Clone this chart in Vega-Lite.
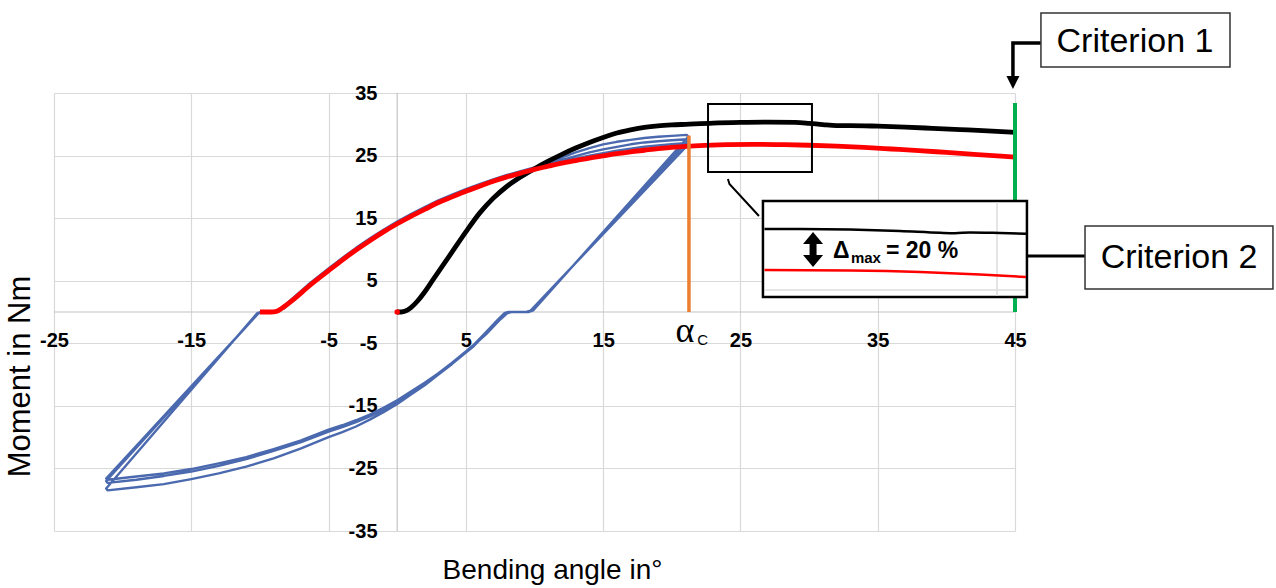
{
  "$schema": "https://vega.github.io/schema/vega-lite/v6.json",
  "width": 961,
  "height": 438,
  "autosize": {"type": "none"},
  "padding": {"left": 54, "top": 93, "right": 261, "bottom": 57},
  "background": "white",
  "config": {"view": {"stroke": null}, "font": "Liberation Sans"},
  "datasets": {
    "black": [
      {"x":0,"y":0},{"x":0.3,"y":0},{"x":0.6,"y":0.15},{"x":1,"y":0.7},{"x":1.5,"y":1.8},{"x":2,"y":3.2},{"x":2.5,"y":4.8},{"x":3,"y":6.4},{"x":4,"y":9.6},{"x":5,"y":12.8},{"x":6,"y":15.8},{"x":7,"y":18.2},{"x":8,"y":20.1},{"x":9,"y":21.6},{"x":10,"y":22.9},{"x":11,"y":24.1},{"x":12,"y":25.2},{"x":13,"y":26.2},{"x":14,"y":27.1},{"x":15,"y":27.9},{"x":16,"y":28.6},{"x":17,"y":29.1},{"x":18,"y":29.5},{"x":19,"y":29.75},{"x":20,"y":29.9},{"x":21,"y":30.0},{"x":23,"y":30.2},{"x":25,"y":30.3},{"x":27,"y":30.35},{"x":29,"y":30.3},{"x":30,"y":30.15},{"x":31,"y":29.95},{"x":32,"y":29.8},{"x":33,"y":29.8},{"x":35,"y":29.7},{"x":37,"y":29.55},{"x":39,"y":29.35},{"x":41,"y":29.15},{"x":43,"y":28.95},{"x":45,"y":28.7}
    ],
    "red": [
      {"x":-10,"y":0},{"x":-9.2,"y":0},{"x":-8.8,"y":0.1},{"x":-8.4,"y":0.6},{"x":-7.5,"y":2.1},{"x":-6.5,"y":4.0},{"x":-5,"y":6.6},{"x":-4,"y":8.3},{"x":-3,"y":9.9},{"x":-2,"y":11.4},{"x":-1,"y":12.8},{"x":0,"y":14.1},{"x":1,"y":15.3},{"x":2,"y":16.4},{"x":3,"y":17.5},{"x":4,"y":18.4},{"x":5,"y":19.3},{"x":6,"y":20.1},{"x":7,"y":20.9},{"x":8,"y":21.6},{"x":9,"y":22.2},{"x":10,"y":22.8},{"x":11,"y":23.3},{"x":12,"y":23.8},{"x":13,"y":24.2},{"x":14,"y":24.6},{"x":15,"y":24.95},{"x":16,"y":25.3},{"x":17,"y":25.6},{"x":18,"y":25.85},{"x":19,"y":26.1},{"x":20,"y":26.3},{"x":22,"y":26.6},{"x":24,"y":26.75},{"x":26,"y":26.8},{"x":28,"y":26.75},{"x":30,"y":26.65},{"x":32,"y":26.5},{"x":34,"y":26.3},{"x":36,"y":26.05},{"x":38,"y":25.8},{"x":40,"y":25.5},{"x":42,"y":25.2},{"x":44,"y":24.9},{"x":45,"y":24.75}
    ],
    "blue": [
      {"x":0,"y":0},{"x":0.5,"y":0.1},{"x":1,"y":0.8},{"x":1.5,"y":1.9},{"x":2,"y":3.3},{"x":2.5,"y":4.9},{"x":3,"y":6.5},{"x":4,"y":9.6},{"x":5,"y":12.7},{"x":6,"y":15.6},{"x":7,"y":18.0},{"x":8,"y":19.9},{"x":9,"y":21.4},{"x":10,"y":22.7},{"x":11,"y":23.8},{"x":12,"y":24.7},{"x":13,"y":25.5},{"x":14,"y":26.2},{"x":15,"y":26.8},{"x":16,"y":27.2},{"x":17,"y":27.5},{"x":18,"y":27.8},{"x":19,"y":28.0},{"x":20,"y":28.15},{"x":21.1,"y":28.3},
      {"x":21.2,"y":28.0},{"x":9.9,"y":0.25},{"x":9.6,"y":0},{"x":8.3,"y":0},{"x":8.0,"y":-0.2},
      {"x":7.5,"y":-1.2},{"x":6.5,"y":-3.5},{"x":5.5,"y":-5.5},{"x":5,"y":-6.4},{"x":4,"y":-8.2},{"x":3,"y":-10.0},{"x":2,"y":-11.7},{"x":1,"y":-13.2},{"x":0,"y":-14.7},{"x":-1,"y":-16.0},{"x":-2,"y":-17.2},{"x":-3,"y":-18.3},{"x":-4,"y":-19.2},{"x":-5,"y":-20.0},{"x":-7,"y":-21.8},{"x":-9,"y":-23.4},{"x":-11,"y":-24.7},{"x":-13,"y":-25.8},{"x":-15,"y":-26.7},{"x":-17,"y":-27.5},{"x":-19,"y":-28.0},{"x":-21.1,"y":-28.5},
      {"x":-21.2,"y":-28.2},{"x":-10.2,"y":-0.2},{"x":-9.9,"y":0},{"x":-8.9,"y":0},{"x":-8.6,"y":0.3},
      {"x":-8.3,"y":0.9},{"x":-7.5,"y":2.4},{"x":-6.5,"y":4.35},{"x":-5,"y":6.95},{"x":-4,"y":8.65},{"x":-3,"y":10.25},{"x":-2,"y":11.75},{"x":-1,"y":13.15},{"x":0,"y":14.45},{"x":1,"y":15.65},{"x":2,"y":16.75},{"x":3,"y":17.85},{"x":4,"y":18.75},{"x":5,"y":19.65},{"x":6,"y":20.45},{"x":7,"y":21.2},{"x":8,"y":21.9},{"x":9,"y":22.5},{"x":10,"y":23.1},{"x":11,"y":23.7},{"x":12,"y":24.3},{"x":13,"y":24.9},{"x":14,"y":25.5},{"x":15,"y":26.0},{"x":16,"y":26.4},{"x":17,"y":26.8},{"x":18,"y":27.1},{"x":19,"y":27.3},{"x":20,"y":27.45},{"x":21.1,"y":27.6},
      {"x":21.2,"y":27.4},{"x":9.8,"y":0.2},{"x":9.5,"y":0},{"x":8.2,"y":0},{"x":7.9,"y":-0.2},
      {"x":7.4,"y":-1.3},{"x":6.4,"y":-3.6},{"x":5.5,"y":-5.6},{"x":5,"y":-6.5},{"x":4,"y":-8.3},{"x":3,"y":-10.0},{"x":2,"y":-11.5},{"x":1,"y":-12.9},{"x":0,"y":-14.4},{"x":-1,"y":-15.6},{"x":-2,"y":-16.7},{"x":-3,"y":-17.6},{"x":-4,"y":-18.4},{"x":-5,"y":-19.1},{"x":-7,"y":-20.8},{"x":-9,"y":-22.2},{"x":-11,"y":-23.5},{"x":-13,"y":-24.6},{"x":-15,"y":-25.5},{"x":-17,"y":-26.2},{"x":-19,"y":-26.8},{"x":-21.1,"y":-27.3},
      {"x":-21.2,"y":-27.0},{"x":-10.1,"y":-0.2},{"x":-9.8,"y":0},{"x":-8.8,"y":0},{"x":-8.5,"y":0.3},
      {"x":-8.2,"y":0.8},{"x":-7.5,"y":2.3},{"x":-6.5,"y":4.25},{"x":-5,"y":6.85},{"x":-4,"y":8.55},{"x":-3,"y":10.15},{"x":-2,"y":11.65},{"x":-1,"y":13.05},{"x":0,"y":14.35},{"x":1,"y":15.55},{"x":2,"y":16.65},{"x":3,"y":17.75},{"x":4,"y":18.65},{"x":5,"y":19.55},{"x":6,"y":20.35},{"x":7,"y":21.1},{"x":8,"y":21.75},{"x":9,"y":22.35},{"x":10,"y":22.95},{"x":11,"y":23.5},{"x":12,"y":24.0},{"x":13,"y":24.5},{"x":14,"y":25.0},{"x":15,"y":25.4},{"x":16,"y":25.8},{"x":17,"y":26.1},{"x":18,"y":26.4},{"x":19,"y":26.6},{"x":20,"y":26.8},{"x":21.1,"y":27.0},
      {"x":21.2,"y":26.8},{"x":9.7,"y":0.2},{"x":9.4,"y":0},{"x":8.1,"y":0},{"x":7.8,"y":-0.2},
      {"x":7.3,"y":-1.3},{"x":6.3,"y":-3.6},{"x":5.5,"y":-5.4},{"x":5,"y":-6.3},{"x":4,"y":-8.1},{"x":3,"y":-9.8},{"x":2,"y":-11.3},{"x":1,"y":-12.7},{"x":0,"y":-14.1},{"x":-1,"y":-15.3},{"x":-2,"y":-16.4},{"x":-3,"y":-17.3},{"x":-4,"y":-18.1},{"x":-5,"y":-18.8},{"x":-7,"y":-20.5},{"x":-9,"y":-21.9},{"x":-11,"y":-23.2},{"x":-13,"y":-24.2},{"x":-15,"y":-25.1},{"x":-17,"y":-25.8},{"x":-19,"y":-26.3},{"x":-21.1,"y":-26.8},
      {"x":-21.2,"y":-26.6},{"x":-10.1,"y":-0.2},{"x":-9.8,"y":0},{"x":-8.8,"y":0},{"x":-8.5,"y":0.3},{"x":-8.2,"y":0.7},{"x":-7.5,"y":2.1}
    ]
  },
  "layer": [
    {
      "data": {"values": [{"x": -25, "x2": 45, "y": 0}]},
      "mark": {"type": "rule", "color": "#c4c4c4", "strokeWidth": 1.2},
      "encoding": {
        "x": {"field": "x", "type": "quantitative",
          "scale": {"domain": [-25, 45], "nice": false, "zero": false},
          "axis": {"values": [-25, -15, -5, 5, 15, 25, 35, 45], "offset": -219, "domain": false, "ticks": false, "tickSize": 0,
            "labelExpr": "replace(datum.label, '−', '-')",
            "labelPadding": 18, "labelFont": "Liberation Sans", "labelFontSize": 20, "labelFontWeight": "bold", "labelColor": "#000000",
            "labelFlush": false, "labelOverlap": false, "labelBound": false,
            "grid": true, "gridColor": "#d9d9d9", "gridWidth": 1.2,
            "title": "Bending angle in°", "titleFont": "Liberation Sans", "titleFontSize": 28, "titleFontWeight": "normal", "titleColor": "#000000",
            "titleX": 498, "titleY": 258, "titleAlign": "center", "titleBaseline": "middle", "titleAngle": 0}},
        "x2": {"field": "x2"},
        "y": {"field": "y", "type": "quantitative",
          "scale": {"domain": [-35, 35], "nice": false, "zero": false},
          "axis": {"values": [-35, -25, -15, -5, 5, 15, 25, 35], "offset": -343, "domain": false, "ticks": false, "tickSize": 0,
            "labelExpr": "replace(datum.label, '−', '-')",
            "labelPadding": 20, "labelFont": "Liberation Sans", "labelFontSize": 20, "labelFontWeight": "bold", "labelColor": "#000000",
            "labelFlush": false, "labelOverlap": false, "labelBound": false,
            "grid": true, "gridColor": "#d9d9d9", "gridWidth": 1.2,
            "title": "Moment in Nm", "titleFont": "Liberation Sans", "titleFontSize": 31, "titleFontWeight": "normal", "titleColor": "#000000",
            "titleX": -377, "titleY": 283, "titleAlign": "center", "titleBaseline": "middle", "titleAngle": 270}}
      }
    },
    {
      "data": {"values": [{"x": 0, "y": -35, "y2": 35}]},
      "mark": {"type": "rule", "color": "#c4c4c4", "strokeWidth": 1.2},
      "encoding": {
        "x": {"field": "x", "type": "quantitative"},
        "y": {"field": "y", "type": "quantitative"},
        "y2": {"field": "y2"}
      }
    },
    {
      "data": {"name": "blue"},
      "mark": {"type": "line", "color": "#4a69ae", "strokeWidth": 2.4, "strokeJoin": "round", "clip": false},
      "encoding": {
        "x": {"field": "x", "type": "quantitative"},
        "y": {"field": "y", "type": "quantitative"},
        "order": {"value": null}
      }
    },
    {
      "data": {"name": "black"},
      "mark": {"type": "line", "color": "#000000", "strokeWidth": 4.8, "strokeJoin": "round", "interpolate": "monotone"},
      "encoding": {
        "x": {"field": "x", "type": "quantitative"},
        "y": {"field": "y", "type": "quantitative"},
        "order": {"value": null}
      }
    },
    {
      "data": {"name": "red"},
      "mark": {"type": "line", "color": "#ff0000", "strokeWidth": 4.8, "strokeJoin": "round", "interpolate": "monotone"},
      "encoding": {
        "x": {"field": "x", "type": "quantitative"},
        "y": {"field": "y", "type": "quantitative"},
        "order": {"value": null}
      }
    },
    {
      "data": {"values": [{"x": 0, "y": 0}]},
      "mark": {"type": "point", "filled": true, "color": "#ff0000", "size": 30, "opacity": 1},
      "encoding": {
        "x": {"field": "x", "type": "quantitative"},
        "y": {"field": "y", "type": "quantitative"}
      }
    },
    {
      "data": {"values": [{"x": 21.25, "y": 0, "y2": 28.2}]},
      "mark": {"type": "rule", "color": "#ed7d31", "strokeWidth": 3.5},
      "encoding": {
        "x": {"field": "x", "type": "quantitative"},
        "y": {"field": "y", "type": "quantitative"},
        "y2": {"field": "y2"}
      }
    },
    {
      "data": {"values": [{"x": 45, "y": 0, "y2": 33.4}]},
      "mark": {"type": "rule", "color": "#00b050", "strokeWidth": 4},
      "encoding": {
        "x": {"field": "x", "type": "quantitative"},
        "y": {"field": "y", "type": "quantitative"},
        "y2": {"field": "y2"}
      }
    },
    {
      "data": {"values": [{"x": 22.64, "x2": 30.21, "y": 33.24, "y2": 22.37}]},
      "mark": {"type": "rect", "fill": null, "stroke": "#000000", "strokeWidth": 2},
      "encoding": {
        "x": {"field": "x", "type": "quantitative"},
        "x2": {"field": "x2"},
        "y": {"field": "y", "type": "quantitative"},
        "y2": {"field": "y2"}
      }
    },
    {
      "data": {"values": [{"x": 24.09, "y": 21.26}, {"x": 24.2, "y": 20.46}, {"x": 26.35, "y": 15.34}]},
      "mark": {"type": "line", "color": "#000000", "strokeWidth": 2, "clip": false},
      "encoding": {
        "x": {"field": "x", "type": "quantitative"},
        "y": {"field": "y", "type": "quantitative"},
        "order": {"value": null}
      }
    },
    {
      "data": {"values": [{"x": 26.64, "x2": 45.87, "y": 17.74, "y2": 2.4}]},
      "mark": {"type": "rect", "fill": "#ffffff", "stroke": "#000000", "strokeWidth": 2.5, "clip": false},
      "encoding": {
        "x": {"field": "x", "type": "quantitative"},
        "x2": {"field": "x2"},
        "y": {"field": "y", "type": "quantitative"},
        "y2": {"field": "y2"}
      }
    },
    {
      "data": {"values": [{"x": 26.8, "x2": 45.7, "y": 3.52, "y2": 3.52}, {"x": 43.69, "x2": 43.69, "y": 2.6, "y2": 17.55}]},
      "mark": {"type": "rule", "color": "#dcdcdc", "strokeWidth": 1.5, "clip": false},
      "encoding": {
        "x": {"field": "x", "type": "quantitative"},
        "x2": {"field": "x2"},
        "y": {"field": "y", "type": "quantitative"},
        "y2": {"field": "y2"}
      }
    },
    {
      "data": {"values": [{"x": 26.75, "y": 13.26}, {"x": 29.34, "y": 13.26}, {"x": 32.98, "y": 13.18}, {"x": 36.62, "y": 12.95}, {"x": 39.54, "y": 12.66}, {"x": 40.63, "y": 12.6}, {"x": 41.72, "y": 12.72}, {"x": 43.91, "y": 12.62}, {"x": 45.8, "y": 12.5}]},
      "mark": {"type": "line", "color": "#000000", "strokeWidth": 2.5, "clip": false, "interpolate": "monotone"},
      "encoding": {
        "x": {"field": "x", "type": "quantitative"},
        "y": {"field": "y", "type": "quantitative"},
        "order": {"value": null}
      }
    },
    {
      "data": {"values": [{"x": 26.75, "y": 6.71}, {"x": 33.0, "y": 6.63}, {"x": 38.1, "y": 6.39}, {"x": 42.45, "y": 5.99}, {"x": 45.8, "y": 5.59}]},
      "mark": {"type": "line", "color": "#ff0000", "strokeWidth": 2.5, "clip": false, "interpolate": "monotone"},
      "encoding": {
        "x": {"field": "x", "type": "quantitative"},
        "y": {"field": "y", "type": "quantitative"},
        "order": {"value": null}
      }
    },
    {
      "data": {"values": [{"x": 30.29, "y": 11.03, "y2": 8.95}]},
      "mark": {"type": "rule", "color": "#000000", "strokeWidth": 7, "clip": false},
      "encoding": {
        "x": {"field": "x", "type": "quantitative"},
        "y": {"field": "y", "type": "quantitative"},
        "y2": {"field": "y2"}
      }
    },
    {
      "data": {"values": [{"x": 30.29, "y": 11.83}]},
      "mark": {"type": "point", "shape": "M-1,0.6L1,0.6L0,-0.6Z", "filled": true, "color": "#000000", "opacity": 1, "size": 400, "clip": false},
      "encoding": {
        "x": {"field": "x", "type": "quantitative"},
        "y": {"field": "y", "type": "quantitative"}
      }
    },
    {
      "data": {"values": [{"x": 30.29, "y": 8.15}]},
      "mark": {"type": "point", "shape": "M-1,-0.6L1,-0.6L0,0.6Z", "filled": true, "color": "#000000", "opacity": 1, "size": 400, "clip": false},
      "encoding": {
        "x": {"field": "x", "type": "quantitative"},
        "y": {"field": "y", "type": "quantitative"}
      }
    },
    {
      "data": {"values": [{"x": 31.74, "y": 8.63, "t": "Δ"}, {"x": 35.6, "y": 8.63, "t": "= 20 %"}]},
      "mark": {"type": "text", "align": "left", "baseline": "alphabetic", "font": "Liberation Sans", "fontSize": 23, "fontWeight": "bold", "color": "#000000", "clip": false},
      "encoding": {
        "x": {"field": "x", "type": "quantitative"},
        "y": {"field": "y", "type": "quantitative"},
        "text": {"field": "t"}
      }
    },
    {
      "data": {"values": [{"x": 33.05, "y": 7.83, "t": "max"}]},
      "mark": {"type": "text", "align": "left", "baseline": "alphabetic", "font": "Liberation Sans", "fontSize": 15, "fontWeight": "bold", "color": "#000000", "clip": false},
      "encoding": {
        "x": {"field": "x", "type": "quantitative"},
        "y": {"field": "y", "type": "quantitative"},
        "text": {"field": "t"}
      }
    },
    {
      "data": {"values": [{"x": 45.87, "y": 8.95}, {"x": 50.1, "y": 8.95}]},
      "mark": {"type": "line", "color": "#000000", "strokeWidth": 3, "clip": false},
      "encoding": {
        "x": {"field": "x", "type": "quantitative"},
        "y": {"field": "y", "type": "quantitative"},
        "order": {"value": null}
      }
    },
    {
      "data": {"values": [{"x": 46.89, "y": 42.99}, {"x": 44.85, "y": 42.99}, {"x": 44.85, "y": 37.56}]},
      "mark": {"type": "line", "color": "#000000", "strokeWidth": 3.5, "clip": false},
      "encoding": {
        "x": {"field": "x", "type": "quantitative"},
        "y": {"field": "y", "type": "quantitative"},
        "order": {"value": null}
      }
    },
    {
      "data": {"values": [{"x": 44.85, "y": 36.68}]},
      "mark": {"type": "point", "shape": "M-1,-1L1,-1L0,1Z", "filled": true, "color": "#000000", "opacity": 1, "size": 169, "clip": false},
      "encoding": {
        "x": {"field": "x", "type": "quantitative"},
        "y": {"field": "y", "type": "quantitative"}
      }
    },
    {
      "data": {"values": [{"x": 46.89, "x2": 60.66, "y": 47.79, "y2": 39.16}, {"x": 50.1, "x2": 63.79, "y": 13.74, "y2": 3.68}]},
      "mark": {"type": "rect", "fill": "#ffffff", "stroke": "#333333", "strokeWidth": 1.5, "clip": false},
      "encoding": {
        "x": {"field": "x", "type": "quantitative"},
        "x2": {"field": "x2"},
        "y": {"field": "y", "type": "quantitative"},
        "y2": {"field": "y2"}
      }
    },
    {
      "data": {"values": [{"x": 53.74, "y": 43.15, "t": "Criterion 1"}, {"x": 56.95, "y": 8.63, "t": "Criterion 2"}]},
      "mark": {"type": "text", "align": "center", "baseline": "middle", "font": "Liberation Sans", "fontSize": 34, "color": "#000000", "clip": false},
      "encoding": {
        "x": {"field": "x", "type": "quantitative"},
        "y": {"field": "y", "type": "quantitative"},
        "text": {"field": "t"}
      }
    },
    {
      "data": {"values": [{"x": 20.96, "y": -4.79, "t": "α"}]},
      "mark": {"type": "text", "align": "center", "baseline": "alphabetic", "font": "Liberation Serif", "fontSize": 36, "color": "#000000", "clip": false},
      "encoding": {
        "x": {"field": "x", "type": "quantitative"},
        "y": {"field": "y", "type": "quantitative"},
        "text": {"field": "t"}
      }
    },
    {
      "data": {"values": [{"x": 21.85, "y": -5.27, "t": "C"}]},
      "mark": {"type": "text", "align": "left", "baseline": "alphabetic", "font": "Liberation Sans", "fontSize": 15, "color": "#000000", "clip": false},
      "encoding": {
        "x": {"field": "x", "type": "quantitative"},
        "y": {"field": "y", "type": "quantitative"},
        "text": {"field": "t"}
      }
    }
  ]
}
